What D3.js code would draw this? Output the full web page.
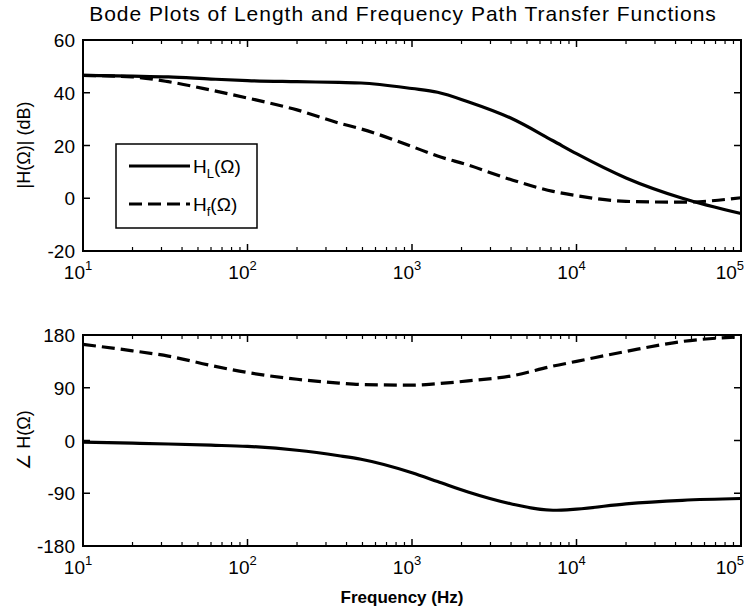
<!DOCTYPE html>
<html>
<head>
<meta charset="utf-8">
<script src="https://cdn.jsdelivr.net/npm/d3@7"></script>
<style>
body { margin: 0; background: #fff; }
text { font-family: "Liberation Sans", Arial, sans-serif; fill: #000; }
</style>
</head>
<body>
<div class="wrapper"></div>
<script>
// frequencies (Hz) sampled along the curves
var freq = [10, 20, 33, 60, 100, 200, 360, 490, 1000, 1430, 2190, 3980, 7200, 10000, 20000, 44000, 100000];

// magnitude in dB
var magL = [46.6, 46.3, 46.0, 45.2, 44.6, 44.2, 43.9, 43.7, 41.6, 40.2, 36.6, 30.4, 21.8, 16.9, 7.7, 0, -5.8];
var magF = [46.6, 46.0, 44.2, 41.0, 38.0, 33.5, 28.5, 26.3, 19.6, 16.0, 12.6, 7.1, 2.6, 1.0, -1.2, -1.5, 0.2];

// phase in degrees
var phaseL = [-2.8, -4.5, -6, -8, -10, -16.6, -26, -32, -55, -70, -88, -108, -119, -117, -108, -102, -99];
var phaseF = [164, 153, 144, 128, 116, 104.5, 98, 95.5, 94.5, 97, 101.7, 110, 127, 135, 152, 169, 177];

var magTicks = [-20, 0, 20, 40, 60];
var phaseTicks = [-180, -90, 0, 90, 180];
var decades = [1, 2, 3, 4, 5];

var W = 744, H = 613;
var LEFT = 83, RIGHT = 741;

var svg = d3.select(".wrapper")
	.append("svg")
		.attr("width", W)
		.attr("height", H);

var x = d3.scaleLog()
	.domain([10, 100000])
	.range([LEFT, RIGHT]);

var panels = [
	{ top: 40, bottom: 251, domain: [-20, 60], ticks: magTicks, series: [magL, magF] },
	{ top: 335, bottom: 546, domain: [-180, 180], ticks: phaseTicks, series: [phaseL, phaseF] }
];

panels.forEach(function(p) {
	var y = d3.scaleLinear().domain(p.domain).range([p.bottom, p.top]);
	var g = svg.append("g");

	// lines
	var line = d3.line()
		.curve(d3.curveMonotoneX)
		.x(function(d, i) { return x(freq[i]); })
		.y(function(d) { return y(d); });

	g.append("path")
		.datum(p.series[0])
		.attr("d", line)
		.attr("fill", "none")
		.attr("stroke", "#000")
		.attr("stroke-width", 3.2);

	g.append("path")
		.datum(p.series[1])
		.attr("d", line)
		.attr("fill", "none")
		.attr("stroke", "#000")
		.attr("stroke-width", 3.2)
		.attr("stroke-dasharray", "13,6");

	// frame
	g.append("rect")
		.attr("x", LEFT)
		.attr("y", p.top)
		.attr("width", RIGHT - LEFT)
		.attr("height", p.bottom - p.top)
		.attr("fill", "none")
		.attr("stroke", "#000")
		.attr("stroke-width", 2);

	// x ticks, major and minor, top and bottom, pointing inward
	var minor = [];
	for (var e = 1; e < 5; e++) {
		for (var k = 2; k < 10; k++) minor.push(k * Math.pow(10, e));
	}
	minor.forEach(function(f) {
		g.append("line").attr("x1", x(f)).attr("x2", x(f))
			.attr("y1", p.bottom).attr("y2", p.bottom - 4)
			.attr("stroke", "#000").attr("stroke-width", 1.2);
		g.append("line").attr("x1", x(f)).attr("x2", x(f))
			.attr("y1", p.top).attr("y2", p.top + 4)
			.attr("stroke", "#000").attr("stroke-width", 1.2);
	});
	decades.forEach(function(e) {
		var xx = x(Math.pow(10, e));
		g.append("line").attr("x1", xx).attr("x2", xx)
			.attr("y1", p.bottom).attr("y2", p.bottom - 7)
			.attr("stroke", "#000").attr("stroke-width", 1.5);
		g.append("line").attr("x1", xx).attr("x2", xx)
			.attr("y1", p.top).attr("y2", p.top + 7)
			.attr("stroke", "#000").attr("stroke-width", 1.5);
		var last = e === decades[decades.length - 1];
		var t = g.append("text")
			.attr("x", last ? 744 : xx - 5)
			.attr("y", p.bottom + 28)
			.attr("text-anchor", last ? "end" : "middle")
			.attr("font-size", 19);
		t.append("tspan").text("10");
		t.append("tspan").attr("dy", -9).attr("font-size", 13).text(e);
	});

	// y ticks
	p.ticks.forEach(function(v) {
		var yy = y(v);
		g.append("line").attr("x1", LEFT).attr("x2", LEFT + 7)
			.attr("y1", yy).attr("y2", yy)
			.attr("stroke", "#000").attr("stroke-width", 1.5);
		g.append("line").attr("x1", RIGHT).attr("x2", RIGHT - 7)
			.attr("y1", yy).attr("y2", yy)
			.attr("stroke", "#000").attr("stroke-width", 1.5);
		g.append("text")
			.attr("x", LEFT - 8)
			.attr("y", yy + 7)
			.attr("text-anchor", "end")
			.attr("font-size", 19)
			.text(v);
	});
});

// title
svg.append("text")
	.attr("x", 403)
	.attr("y", 21)
	.attr("text-anchor", "middle")
	.attr("font-size", 21)
	.attr("letter-spacing", 1)
	.text("Bode Plots of Length and Frequency Path Transfer Functions");

// axis labels
svg.append("text")
	.attr("transform", "translate(30,145) rotate(-90)")
	.attr("text-anchor", "middle")
	.attr("font-size", 18)
	.text("|H(\u03A9)| (dB)");

svg.append("text")
	.attr("transform", "translate(30,440) rotate(-90)")
	.attr("text-anchor", "middle")
	.attr("font-size", 18)
	.text("\u2220 H(\u03A9)");

svg.append("text")
	.attr("x", 402)
	.attr("y", 603)
	.attr("text-anchor", "middle")
	.attr("font-size", 17)
	.attr("font-weight", "bold")
	.text("Frequency (Hz)");

// legend
var legend = svg.append("g");
legend.append("rect")
	.attr("x", 116).attr("y", 144)
	.attr("width", 141).attr("height", 84)
	.attr("fill", "#fff")
	.attr("stroke", "#000")
	.attr("stroke-width", 1.5);

var legendItems = [
	{ sub: "L", dash: null, y: 166 },
	{ sub: "f", dash: "13,6", y: 204 }
];
legendItems.forEach(function(d) {
	legend.append("line")
		.attr("x1", 129).attr("x2", 190)
		.attr("y1", d.y).attr("y2", d.y)
		.attr("stroke", "#000")
		.attr("stroke-width", 3.2)
		.attr("stroke-dasharray", d.dash);
	var t = legend.append("text")
		.attr("x", 193)
		.attr("y", d.y + 7)
		.attr("font-size", 19);
	t.append("tspan").text("H");
	t.append("tspan").attr("dy", 5).attr("font-size", 13).text(d.sub);
	t.append("tspan").attr("dy", -5).text("(\u03A9)");
});
</script>
</body>
</html>
